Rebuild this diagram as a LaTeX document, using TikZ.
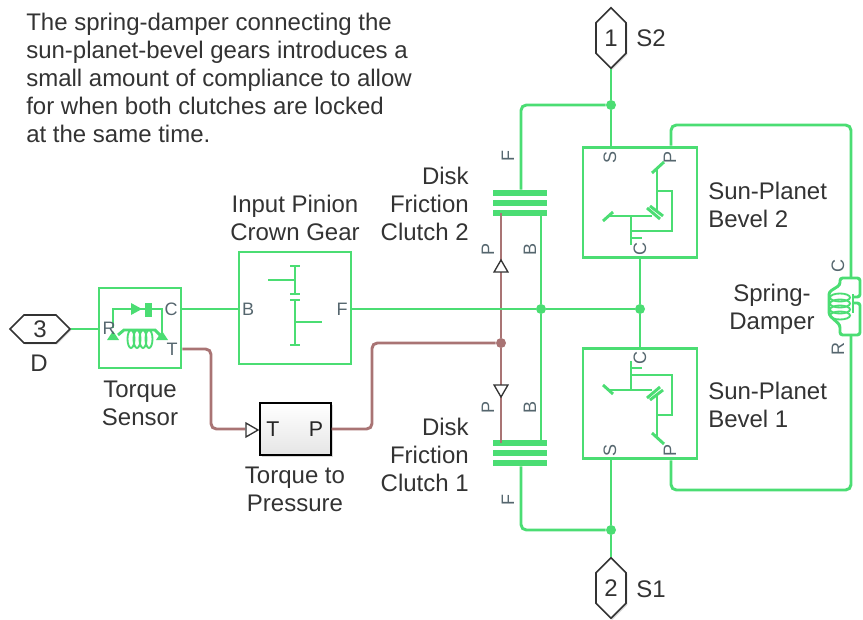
\documentclass[tikz,border=0pt]{standalone}
\usepackage{fontspec}
\setmainfont{Liberation Sans}
\usetikzlibrary{arrows.meta,shapes.geometric,shapes.symbols,shadows}
\definecolor{mechgreen}{HTML}{4BDD73}
\definecolor{sigred}{HTML}{A97474}
\definecolor{portgray}{HTML}{55666E}
\definecolor{inkgray}{HTML}{333333}
\tikzset{
  bevelicon/.pic={
    \draw[iconline] (652,173) -- (664,162);
    \draw[iconline] (657,168) -- (657,211);
    \draw[iconline] (657,191) -- (672,191) -- (672,231) -- (632,231);
    \draw[iconline] (603,221) -- (613,212);
    \draw[iconline] (607,216) -- (652,216);
    \draw[iconline] (647,208) -- (660,219);
    \draw[iconline] (650,206) -- (663,216);
    \draw[iconline] (631,216) -- (631,245);
    \draw[iconline] (631,238) -- (642,238);
  }
}
\begin{document}
\begin{tikzpicture}[
  x=0.75pt, y=-0.75pt,
  every node/.style={font=\fontsize{18}{21}\selectfont, text=inkgray},
  mech/.style={draw=mechgreen, line width=2.2pt, rounded corners=4pt},
  sig/.style={draw=sigred, line width=2.2pt, rounded corners=4pt},
  iconline/.style={draw=mechgreen, line width=2.2pt},
  block/.style={draw=mechgreen, line width=2.2pt, rectangle, inner sep=0pt},
  plate/.style={fill=mechgreen, rectangle, inner sep=0pt, minimum width=40.5pt, minimum height=4.5pt},
  junction/.style={fill=mechgreen, circle, inner sep=0pt, minimum size=7.5pt},
  sigjunction/.style={fill=sigred, circle, inner sep=0pt, minimum size=7.5pt},
  portlabel/.style={font=\fontsize{13.5}{15}\selectfont, text=portgray, inner sep=0pt},
  sidelabel/.style={portlabel, rotate=90},
  io/.style={draw=inkgray, fill=white, line width=1.2pt, signal, signal pointer angle=90,
    inner sep=0pt, drop shadow={shadow xshift=1pt, shadow yshift=-1pt, opacity=.35}},
  intri/.style={draw=inkgray, fill=white, line width=1pt, regular polygon, regular polygon sides=3,
    inner sep=0pt, minimum size=12pt}
]
  \useasboundingbox (0,0) rectangle (863,620);

  \node[align=left, anchor=north west, inner sep=0pt] (note) at (26,13) {The spring-damper connecting the\\sun-planet-bevel gears introduces a\\small amount of compliance to allow\\for when both clutches are locked\\at the same time.};

  % ports
  \node[io, signal to=west and east, minimum width=45pt, minimum height=21pt] (portD) at (40,329) {3};
  \node[io, signal to=north and south, minimum width=22.5pt, minimum height=33pt] (portS2) at (611,38) {1};
  \node[io, signal to=north and south, minimum width=22.5pt, minimum height=33pt] (portS1) at (611,588) {2};
  \node (labD) at (39,363) {D};
  \node (labS2) at (651,38) {S2};
  \node (labS1) at (651,589) {S1};

  % blocks
  \node[block, minimum width=61.5pt, minimum height=60pt] (sensor) at (140,328) {};
  \node[block, minimum width=84pt, minimum height=84pt] (pinion) at (295,308) {};
  \node[draw=black, line width=1.2pt, rectangle, inner sep=0pt, minimum width=53pt, minimum height=39pt,
    top color=white, bottom color=black!10, drop shadow={shadow xshift=1.5pt, shadow yshift=-1.5pt, opacity=.3}] (pressure) at (295.5,429) {};
  \node[block, minimum width=85.5pt, minimum height=83pt] (bevel2) at (640,202.5) {};
  \node[block, minimum width=85.5pt, minimum height=83pt] (bevel1) at (640,403.5) {};
  \node[plate] (c2a) at (520,193) {};
  \node[plate] (c2b) at (520,203) {};
  \node[plate] (c2c) at (520,213) {};
  \node[plate] (c1a) at (520,443) {};
  \node[plate] (c1b) at (520,453) {};
  \node[plate] (c1c) at (520,463) {};

  % block names
  \node[align=center] (labSensor) at (140,403) {Torque\\Sensor};
  \node[align=center] (labPinion) at (295,218) {Input Pinion\\Crown Gear};
  \node[align=center] (labPressure) at (295,489) {Torque to\\Pressure};
  \node[align=right, anchor=east, inner sep=0pt] (labC2) at (469,204) {Disk\\Friction\\Clutch 2};
  \node[align=right, anchor=east, inner sep=0pt] (labC1) at (469,455) {Disk\\Friction\\Clutch 1};
  \node[align=left, anchor=west, inner sep=0pt] (labB2) at (708,205) {Sun-Planet\\Bevel 2};
  \node[align=left, anchor=west, inner sep=0pt] (labB1) at (708,405) {Sun-Planet\\Bevel 1};
  \node[align=center] (labSpring) at (772,309) {Spring-\\Damper};

  % junctions
  \node[junction] (jS2) at (611,105) {};
  \node[junction] (jS1) at (611,530) {};
  \node[junction] (jB) at (541,309) {};
  \node[junction] (jC) at (640,309) {};
  \node[sigjunction] (jP) at (501,343) {};
  \node[inner sep=0pt, minimum width=24pt, minimum height=43pt] (damper) at (846,306.5) {};

  % signal wires
  \draw[sig] (sensor.east |- 0,349) -- (211,349) -- (211,429) -- (245,429);
  \draw[sig] (pressure.east) -- (372,429) -- (372,343) -- (jP);
  \draw[sig] (jP) -- (501,213);
  \draw[sig] (jP) -- (501,443);
  \node[intri] (triT) at (250,430) [shape border rotate=-90] {};
  \node[intri] (triP2) at (501,268) {};
  \node[intri] (triP1) at (501,389) [shape border rotate=180] {};

  % mechanical wires
  \draw[mech] (portD.east) -- (sensor.west |- portD);
  \draw[mech] (sensor.east |- 0,309) -- (pinion.west |- 0,309);
  \draw[mech] (pinion.east |- 0,309) -- (jB);
  \draw[mech] (jB) -- (jC);
  \draw[mech] (jB) -- (541,213);
  \draw[mech] (jB) -- (541,443);
  \draw[mech] (jC) -- (bevel2.south);
  \draw[mech] (jC) -- (bevel1.north);
  \draw[mech] (portS2.south) -- (jS2);
  \draw[mech] (jS2) -- (521,105) -- (c2a.north -| 521,0);
  \draw[mech] (jS2) -- (bevel2.north -| jS2);
  \draw[mech] (portS1.north) -- (jS1);
  \draw[mech] (jS1) -- (521,530) -- (c1c.south -| 521,0);
  \draw[mech] (jS1) -- (bevel1.south -| jS1);
  \draw[mech] (bevel2.north -| 671,0) -- (671,125) -- (851,125) -- (damper.north -| 851,0);
  \draw[mech] (bevel1.south -| 671,0) -- (671,490) -- (851,490) -- (damper.south -| 851,0);

  % damper icon
  \draw[iconline, rounded corners=2pt] (851,278) -- (840,278) -- (840,285) -- (829,292) -- (829,315) -- (840,325) -- (840,335) -- (851,335);
  \draw[iconline, rounded corners=2pt] (851,278) -- (860,278) -- (860,297) -- (853,297);
  \draw[iconline, rounded corners=2pt] (851,335) -- (860,335) -- (860,303) -- (853,303);
  \draw[iconline] (853,294) -- (853,313);
  \foreach \yy in {297,303,309,315}
    \draw[iconline, line width=1.4pt] (840,\yy+.5) ellipse (10 and 4);

  % gear icons
  \pic {bevelicon};
  \pic[yscale=-1] at (0,606) {bevelicon};
  \draw[iconline] (295,266) -- (295,294);
  \draw[iconline] (295,300) -- (295,345);
  \foreach \yy in {266,294,300,345}
    \draw[iconline] (290,\yy) -- (300,\yy);
  \draw[iconline] (268,280) -- (295,280);
  \draw[iconline] (295,322) -- (322,322);

  % sensor icon
  \draw[iconline] (113,328) -- (113,309) -- (162,309) -- (162,335);
  \draw[fill=mechgreen, draw=none] (131,303) -- (142,309) -- (131,315) -- cycle;
  \draw[fill=mechgreen, draw=none] (145,303) rectangle (152,317);
  \draw[fill=mechgreen, draw=none] (107,340) -- (113,331) -- (119,340) -- cycle;
  \draw[fill=mechgreen, draw=none] (156,340) -- (162,331) -- (168,340) -- cycle;
  \draw[iconline] (118,335) -- (124,330) -- (155,330) -- (160,335);
  \foreach \xx in {131,137,143,149}
    \draw[iconline, line width=1.4pt] (\xx,339) ellipse (3.5 and 9);

  % port labels
  \node[portlabel] (sR) at (109,328) {R};
  \node[portlabel] (sC) at (171,309) {C};
  \node[portlabel] (sT) at (172,349) {T};
  \node[portlabel] (pB) at (248,309) {B};
  \node[portlabel] (pF) at (342,309) {F};
  \node[portlabel, font=\fontsize{16}{18}\selectfont, text=black!85] (qT) at (273,429) {T};
  \node[portlabel, font=\fontsize{16}{18}\selectfont, text=black!85] (qP) at (316,429) {P};
  \node[sidelabel] (c2F) at (508,156) {F};
  \node[sidelabel] (c2P) at (488,249) {P};
  \node[sidelabel] (c2B) at (530,249) {B};
  \node[sidelabel] (c1P) at (488,407) {P};
  \node[sidelabel] (c1B) at (530,407) {B};
  \node[sidelabel] (c1F) at (508,500) {F};
  \node[sidelabel] (b2S) at (610,157) {S};
  \node[sidelabel] (b2P) at (670,157) {P};
  \node[sidelabel] (b2C) at (640,249) {C};
  \node[sidelabel] (b1C) at (640,358) {C};
  \node[sidelabel] (b1S) at (610,450) {S};
  \node[sidelabel] (b1P) at (670,450) {P};
  \node[sidelabel] (dC) at (838,266) {C};
  \node[sidelabel] (dR) at (838,349) {R};
\end{tikzpicture}
\end{document}
